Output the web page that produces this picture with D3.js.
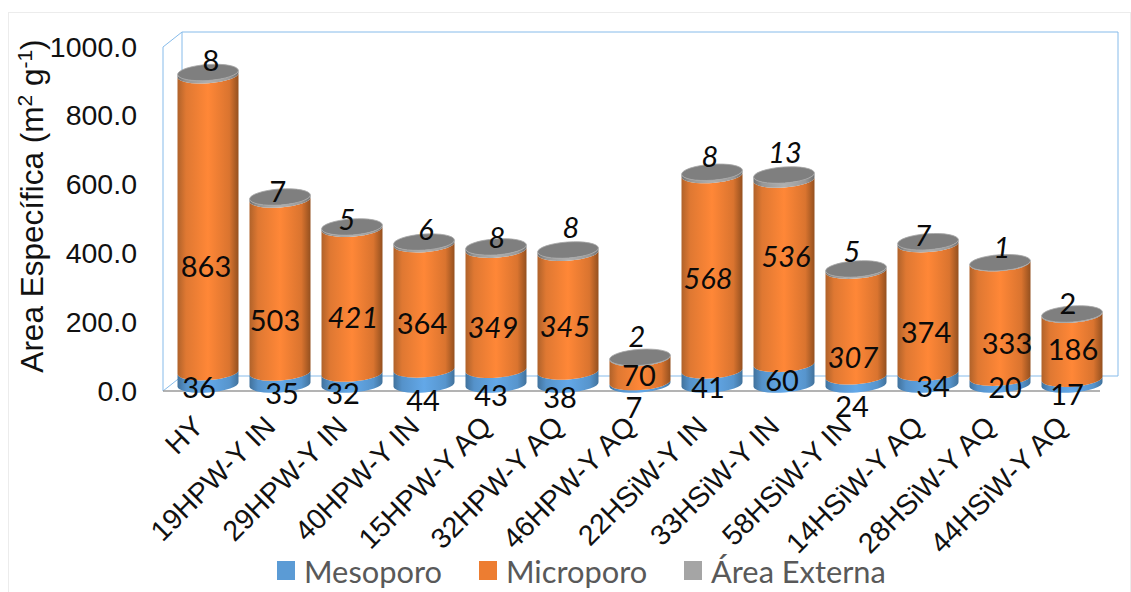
<!DOCTYPE html>
<html><head><meta charset="utf-8">
<script src="https://cdn.jsdelivr.net/npm/d3@7/dist/d3.min.js"></script>
<style>html,body{margin:0;background:#fff}svg{display:block}</style></head>
<body><svg id="c" width="1131" height="592"></svg>
<script>
const categories=["HY","19HPW-Y IN","29HPW-Y IN","40HPW-Y IN","15HPW-Y AQ","32HPW-Y AQ","46HPW-Y AQ","22HSiW-Y IN","33HSiW-Y IN","58HSiW-Y IN","14HSiW-Y AQ","28HSiW-Y AQ","44HSiW-Y AQ"];
const mesoporo=[36,35,32,44,43,38,7,41,60,24,34,20,17];
const microporo=[863,503,421,364,349,345,70,568,536,307,374,333,186];
const externa=[8,7,5,6,8,8,2,8,13,5,7,1,2];
const yTicks=[0,200,400,600,800,1000];
const legendNames=["Mesoporo","Microporo","Área Externa"];
const mesoItalic=[0,0,0,0,0,0,0,0,0,0,0,0,0];
const microItalic=[0,0,1,0,1,1,0,1,1,1,0,0,0];
const extItalic=[0,0,1,1,1,1,1,1,1,1,1,1,0];
// hand-placed label nudges (px) as in the source figure
const mesoNudge=[[-9,8.5],[2,14.5],[-9,13.5],[-1,22.5],[-5,17.5],[-8,18.5],[-6,23.5],[-4,9.5],[-2,5.5],[-4,25.5],[5,6.5],[5,5.5],[-5,11.5]];
const microNudge=[[-2,41.5],[-5,33.5],[1,15.5],[-2,15.5],[-3,16.5],[-3,13.5],[-1,4.5],[-4,4.5],[2,-16.5],[-3,33.5],[-2,23.5],[7,22.5],[1,1.5]];
const extNudge=[[3,-12.5],[-2,-7],[-5,-8],[2,-14],[1,-10],[3,-23],[-3,-22],[-2,-17],[1,-24],[-4,-18],[-5,-7],[2,-16],[-4,-11]];

const svg=d3.select("#c");
const x=d3.scaleBand().domain(categories).range([172,1108]);
const yFront=d3.scaleLinear().domain([0,1000]).range([391,47]);
const yBack=d3.scaleLinear().domain([0,1000]).range([376,32]);
const yCyl=d3.scaleLinear().domain([0,1000]).range([384.5,40.5]);
const rx=30.5, ry=8, tilt=-4, dyT=2.2;

const defs=svg.append("defs");
function grad(id,edgeL,mid,edgeR){
  const g=defs.append("linearGradient").attr("id",id).attr("x1",0).attr("x2",1).attr("y1",0).attr("y2",0);
  [[0,edgeL],[0.14,d3.interpolateRgb(edgeL,mid)(0.6)],[0.5,mid],[0.85,d3.interpolateRgb(edgeR,mid)(0.65)],[1,edgeR]].forEach(s=>g.append("stop").attr("offset",s[0]).attr("stop-color",s[1]));
}
grad("gMeso","#41729c","#63a8e8","#41729c");
grad("gMicro","#b0622a","#ff8737","#94501f");
grad("gExt","#6e6e6e","#b0b0b0","#6e6e6e");

svg.append("rect").attr("x",8.5).attr("y",12.5).attr("width",1122).attr("height",590).attr("fill","#fff").attr("stroke","#ececec");

// 3D walls
const wall=svg.append("g").attr("fill","none").attr("stroke","#86bbea").attr("stroke-width",1);
const xL=163,xB=182,xR=1118;
wall.append("path").attr("d",`M${xL},${yFront(1000)}L${xB},${yBack(1000)}H${xR}V${yBack(0)}H${xB}V${yBack(1000)}`);
wall.append("path").attr("d",`M${xL},${yFront(0)}V${yFront(1000)}`);
wall.append("path").attr("d",`M${xL},${yFront(0)}L${xB},${yBack(0)}`);
svg.append("line").attr("x1",xL).attr("x2",1100).attr("y1",yFront(0)).attr("y2",yFront(0)).attr("stroke","#9a9a9a").attr("stroke-width",1.5);

// cylinders
function seg(cx,yb,yt){
  return `M${cx-rx},${yt+dyT}L${cx-rx},${yb+dyT}A${rx},${ry} ${tilt} 0 0 ${cx+rx},${yb-dyT}L${cx+rx},${yt-dyT}A${rx},${ry} ${tilt} 0 1 ${cx-rx},${yt+dyT}Z`;
}
const bars=svg.append("g").selectAll("g").data(categories).join("g");
bars.each(function(c,i){
  const g=d3.select(this), cx=x(c)+x.bandwidth()/2;
  const a=mesoporo[i], b=a+microporo[i], t=b+externa[i];
  g.append("path").attr("d",seg(cx,yCyl(0),yCyl(a))).attr("fill","url(#gMeso)");
  g.append("path").attr("d",seg(cx,yCyl(a),yCyl(b))).attr("fill","url(#gMicro)");
  g.append("path").attr("d",seg(cx,yCyl(b),yCyl(t))).attr("fill","url(#gExt)");
  g.append("ellipse").attr("cx",cx).attr("cy",yCyl(t)).attr("rx",rx).attr("ry",ry)
    .attr("transform",`rotate(${tilt} ${cx} ${yCyl(t)})`).attr("fill","#7f7f7f").attr("stroke","#a8a8a8").attr("stroke-width",0.8);
});

// data labels
const lab=svg.append("g").attr("font-family","Lato, 'Open Sans', sans-serif").attr("font-size",29).attr("fill","#0a0a0a").attr("text-anchor","middle").attr("dominant-baseline","central");
function labels(vals,base,nudge,ital){
  lab.append("g").selectAll("text").data(vals).join("text")
    .attr("x",(d,i)=>x(categories[i])+x.bandwidth()/2+nudge[i][0])
    .attr("y",(d,i)=>base(i)+nudge[i][1])
    .attr("font-style",(d,i)=>ital[i]?"italic":"normal")
    .text(d=>d);
}
labels(mesoporo,i=>yCyl(mesoporo[i]/2),mesoNudge,mesoItalic);
labels(microporo,i=>yCyl(mesoporo[i]+microporo[i]/2),microNudge,microItalic);
labels(externa,i=>yCyl(mesoporo[i]+microporo[i]+externa[i]),extNudge,extItalic);

// y axis
const ax=svg.append("g").attr("transform",`translate(${xL-26},0)`)
  .call(d3.axisLeft(yFront).tickValues(yTicks).tickSize(0).tickPadding(0).tickFormat(d3.format(".1f")));
ax.select(".domain").remove();
ax.selectAll("text").attr("font-family","'Liberation Sans',Arial,sans-serif").attr("font-size",28.5).attr("fill","#111");

// y title
const tt=svg.append("text").attr("transform","translate(43,206) rotate(-90)").attr("text-anchor","middle")
  .attr("font-family","'Liberation Sans',Arial,sans-serif").attr("font-size",31.5).attr("fill","#111");
tt.append("tspan").text("Area Específica (m");
tt.append("tspan").attr("font-size",21).attr("dy",-11).text("2");
tt.append("tspan").attr("dy",11).text(" g");
tt.append("tspan").attr("font-size",21).attr("dy",-11).text("-1");
tt.append("tspan").attr("dy",11).text(")");

// x labels
svg.append("g").selectAll("text").data(categories).join("text")
  .attr("transform",c=>`translate(${x(c)+x.bandwidth()/2-10},421) rotate(-45)`)
  .attr("text-anchor","end").attr("dominant-baseline","central")
  .attr("font-family","'Liberation Sans',Arial,sans-serif").attr("font-size",28.5).attr("fill","#111").text(c=>c);

// legend
const legendColors=["#5b9bd5","#ed7d31","#a5a5a5"];
const lx=[277,479,684];
const lg=svg.append("g").selectAll("g").data(legendNames).join("g").attr("transform",(d,i)=>`translate(${lx[i]},570)`);
lg.append("rect").attr("y",-9).attr("width",18).attr("height",19).attr("fill",(d,i)=>legendColors[i]);
lg.append("text").attr("x",27).attr("dominant-baseline","central").attr("y",1)
  .attr("font-family","Lato, 'Open Sans', sans-serif").attr("font-size",30.8).attr("fill","#595959").text(d=>d);
</script></body></html>
